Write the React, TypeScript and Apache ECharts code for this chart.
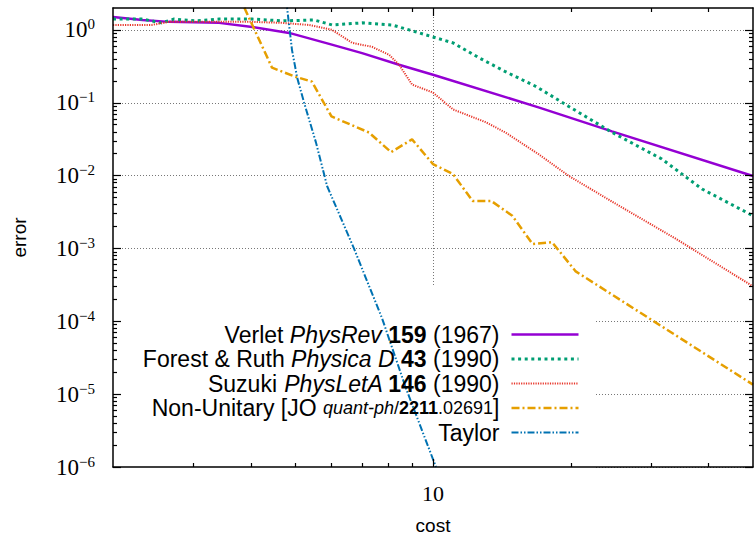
import React, { useEffect, useRef } from 'react';
import * as echarts from 'echarts';

// ---- data ----
const seriesNames = ['Verlet', 'Forest & Ruth', 'Suzuki', 'Non-Unitary', 'Taylor'];
const legendLabels = [
  '{n|Verlet }{i|PhysRev }{b|159 }{n|(1967)}',
  '{n|Forest & Ruth }{i|Physica D }{b|43 }{n|(1990)}',
  '{n|Suzuki }{i|PhysLetA }{b|146 }{n|(1990)}',
  '{n|Non-Unitary [JO }{si|quant-ph}{s|/}{sb|2211}{s|.02691}{n|]}',
  '{n|Taylor}',
];
const seriesColors = ['#9400D3', '#009E73', '#E8372B', '#E69F00', '#0072B2'];
const seriesWidths = [2.5, 3, 2, 2.5, 2];
const seriesDashes: any[] = ['solid', [3, 3.6], [1.2, 1.2], [8, 3, 2, 3], [7, 2, 1.5, 2, 1.5, 2]];

const verletCost = [2, 2.32, 2.65, 3.41, 4.03, 4.85, 5.93, 7.0, 8.43, 10, 17, 24.6, 50];
const verletError = [1.5, 1.37, 1.29, 1.25, 1.1, 0.91, 0.644, 0.48, 0.333, 0.243, 0.0866, 0.0405, 0.0099];

const forestCost = [2, 2.32, 2.55, 2.72, 3.04, 3.41, 4.03, 4.68, 5.5, 6.02, 7.0, 8.14, 8.87, 10, 11.06, 12.6, 14.4, 16.8, 19.8, 24.6, 31.6, 38.7, 50];
const forestError = [1.41, 1.41, 1.25, 1.41, 1.33, 1.41, 1.41, 1.33, 1.37, 1.17, 1.25, 1.17, 1.0, 0.8, 0.665, 0.415, 0.267, 0.167, 0.089, 0.0393, 0.0169, 0.00655, 0.00281];

const suzukiCost = [2, 2.43, 2.65, 4.03, 4.68, 5.36, 6.02, 6.66, 7.36, 8.02, 8.43, 9.0, 10, 11.06, 13.05, 14.4, 17.0, 19.8, 24.6, 33.9, 50];
const suzukiError = [1.17, 1.17, 1.29, 1.29, 1.25, 1.17, 1.0, 0.665, 0.586, 0.456, 0.333, 0.178, 0.138, 0.081, 0.054, 0.039, 0.0197, 0.0099, 0.0044, 0.00136, 0.000302];

const nonUnitaryCost = [3.5, 4.45, 5.0, 5.44, 6.0, 7.25, 8.1, 9.0, 10, 11.06, 12.2, 13.4, 14.9, 16.5, 18.2, 20.5, 50];
const nonUnitaryError = [8, 0.303, 0.228, 0.195, 0.065, 0.039, 0.021, 0.0315, 0.0144, 0.0105, 0.0045, 0.0045, 0.00281, 0.00115, 0.00122, 0.000484, 0.0000135];

const taylorCost = [4.6, 4.92, 5.05, 5.23, 5.55, 5.87, 6.72, 7.74, 8.73, 10.15];
const taylorError = [20, 0.533, 0.221, 0.1, 0.0286, 0.0072, 0.001, 0.00011, 0.000012, 0.000001];

const seriesCosts = [verletCost, forestCost, suzukiCost, nonUnitaryCost, taylorCost];
const seriesErrors = [verletError, forestError, suzukiError, nonUnitaryError, taylorError];

const xRange = [2, 50];
const yRange = [1e-6, 2];
const xMajorTicks = [10];
const xMinorTicks = [3, 4, 5, 6, 7, 8, 9, 20, 30, 40];
const yMajorTicks = [1e-6, 1e-5, 1e-4, 1e-3, 1e-2, 1e-1, 1];
const yMinorFactors = [2, 3, 4, 5, 6, 7, 8, 9];
const yMinorTicks = yMajorTicks
  .flatMap((d) => yMinorFactors.map((m) => Number((d * m).toPrecision(3))))
  .filter((v) => v < 2);

const SANS = '"Liberation Sans", Arial, sans-serif';
const SERIF = '"Liberation Serif", "Times New Roman", serif';

function logAxis(min: number, max: number, extra: any) {
  return {
    type: 'log',
    logBase: 10,
    min,
    max,
    axisLine: { show: false },
    axisTick: { show: false },
    axisLabel: { show: false },
    splitLine: { show: false },
    minorTick: { show: false },
    minorSplitLine: { show: false },
    ...extra,
  };
}

const borderLine = { show: true, lineStyle: { color: '#000', width: 1.5 } };
const tickStyle = { color: '#000', width: 1.2 };
const gridLine = { show: true, lineStyle: { color: '#777', width: 1, type: [1, 2] } };

function yLabel(v: number) {
  const e = Math.round(Math.log10(v));
  const s = e < 0 ? '\u2212' + String(-e) : String(e);
  return '{b|10}{e|' + s + '}';
}

export default function App() {
  const ref = useRef<HTMLDivElement>(null);
  useEffect(() => {
    if (!ref.current) return;
    const chart = echarts.init(ref.current, null, { renderer: 'svg' });
    const FS = 23;
    const SFS = 18;
    const rich = {
      n: { fontFamily: SANS, fontSize: FS, color: '#000' },
      i: { fontFamily: SANS, fontSize: FS, fontStyle: 'italic', color: '#000' },
      b: { fontFamily: SANS, fontSize: FS, fontWeight: 'bold', color: '#000' },
      s: { fontFamily: SANS, fontSize: SFS, color: '#000' },
      si: { fontFamily: SANS, fontSize: SFS, fontStyle: 'italic', color: '#000' },
      sb: { fontFamily: SANS, fontSize: SFS, fontWeight: 'bold', color: '#000' },
    };
    const option: any = {
      animation: false,
      backgroundColor: '#fff',
      grid: { left: 113, right: 1, top: 8, bottom: 70, containLabel: false },
      graphic: [
        {
          type: 'rect',
          z: 1,
          silent: true,
          shape: { x: 114, y: 285, width: 481, height: 183 },
          style: { fill: '#fff' },
        },
      ],
      legend: {
        orient: 'vertical',
        align: 'right',
        right: 174,
        top: 323,
        padding: 0,
        itemWidth: 67,
        itemHeight: 12,
        itemGap: 1.5,
        selectedMode: false,
        itemStyle: { opacity: 0, color: 'rgba(0,0,0,0)', borderWidth: 0 },
        textStyle: { fontFamily: SANS, fontSize: FS, color: '#000', padding: [0, 7, 0, 0], rich },
        data: seriesNames.map((name, i) => ({ name, lineStyle: { width: seriesWidths[i] } })),
        formatter: (name: string) => legendLabels[seriesNames.indexOf(name)],
      },
      xAxis: [
        logAxis(xRange[0], xRange[1], {
          position: 'bottom',
          z: 0,
          axisTick: { show: false, customValues: xMajorTicks },
          splitLine: gridLine,
        }),
        logAxis(xRange[0], xRange[1], {
          position: 'bottom',
          z: 3,
          axisLine: borderLine,
          axisTick: { show: true, inside: true, length: 8, customValues: xMajorTicks, lineStyle: tickStyle },
          axisLabel: {
            show: true,
            customValues: xMajorTicks,
            formatter: (v: number) => String(Math.round(v)),
            fontFamily: SERIF,
            fontSize: 22,
            color: '#000',
            margin: 15,
          },
          name: 'cost',
          nameLocation: 'middle',
          nameGap: 49,
          nameTextStyle: { fontFamily: SANS, fontSize: 19, color: '#000' },
        }),
        logAxis(xRange[0], xRange[1], {
          position: 'bottom',
          z: 3,
          axisTick: { show: true, inside: true, length: 4, customValues: xMinorTicks, lineStyle: tickStyle },
        }),
        logAxis(xRange[0], xRange[1], {
          position: 'top',
          z: 3,
          axisLine: borderLine,
          axisTick: { show: true, inside: true, length: 8, customValues: xMajorTicks, lineStyle: tickStyle },
        }),
        logAxis(xRange[0], xRange[1], {
          position: 'top',
          z: 3,
          axisTick: { show: true, inside: true, length: 4, customValues: xMinorTicks, lineStyle: tickStyle },
        }),
      ],
      yAxis: [
        logAxis(yRange[0], yRange[1], {
          position: 'left',
          z: 0,
          axisTick: { show: false, customValues: yMajorTicks },
          splitLine: gridLine,
        }),
        logAxis(yRange[0], yRange[1], {
          position: 'left',
          z: 3,
          axisLine: borderLine,
          axisTick: { show: true, inside: true, length: 8, customValues: yMajorTicks, lineStyle: tickStyle },
          axisLabel: {
            show: true,
            customValues: yMajorTicks,
            formatter: yLabel,
            margin: 18,
            rich: {
              b: { fontFamily: SERIF, fontSize: 23, lineHeight: 26, color: '#000' },
              e: { fontFamily: SERIF, fontSize: 15, lineHeight: 13, verticalAlign: 'top', color: '#000' },
            },
          },
          name: 'error',
          nameLocation: 'middle',
          nameRotate: 90,
          nameGap: 84,
          nameTextStyle: { fontFamily: SANS, fontSize: 19, color: '#000' },
        }),
        logAxis(yRange[0], yRange[1], {
          position: 'left',
          z: 3,
          axisTick: { show: true, inside: true, length: 4, customValues: yMinorTicks, lineStyle: tickStyle },
        }),
        logAxis(yRange[0], yRange[1], {
          position: 'right',
          z: 3,
          axisLine: borderLine,
          axisTick: { show: true, inside: true, length: 8, customValues: yMajorTicks, lineStyle: tickStyle },
        }),
        logAxis(yRange[0], yRange[1], {
          position: 'right',
          z: 3,
          axisTick: { show: true, inside: true, length: 4, customValues: yMinorTicks, lineStyle: tickStyle },
        }),
      ],
      series: seriesNames.map((name, i) => ({
        name,
        type: 'line',
        xAxisIndex: 0,
        yAxisIndex: 0,
        z: 2,
        symbol: 'none',
        clip: true,
        data: seriesCosts[i].map((c, j) => [c, seriesErrors[i][j]]),
        itemStyle: { color: seriesColors[i] },
        lineStyle: { color: seriesColors[i], width: seriesWidths[i], type: seriesDashes[i], cap: 'butt' },
      })),
    };
    chart.setOption(option);
    return () => chart.dispose();
  }, []);
  return (
    <div
      ref={ref}
      style={{ position: 'absolute', left: 0, top: 0, width: 754, height: 540, background: '#fff' }}
    />
  );
}
